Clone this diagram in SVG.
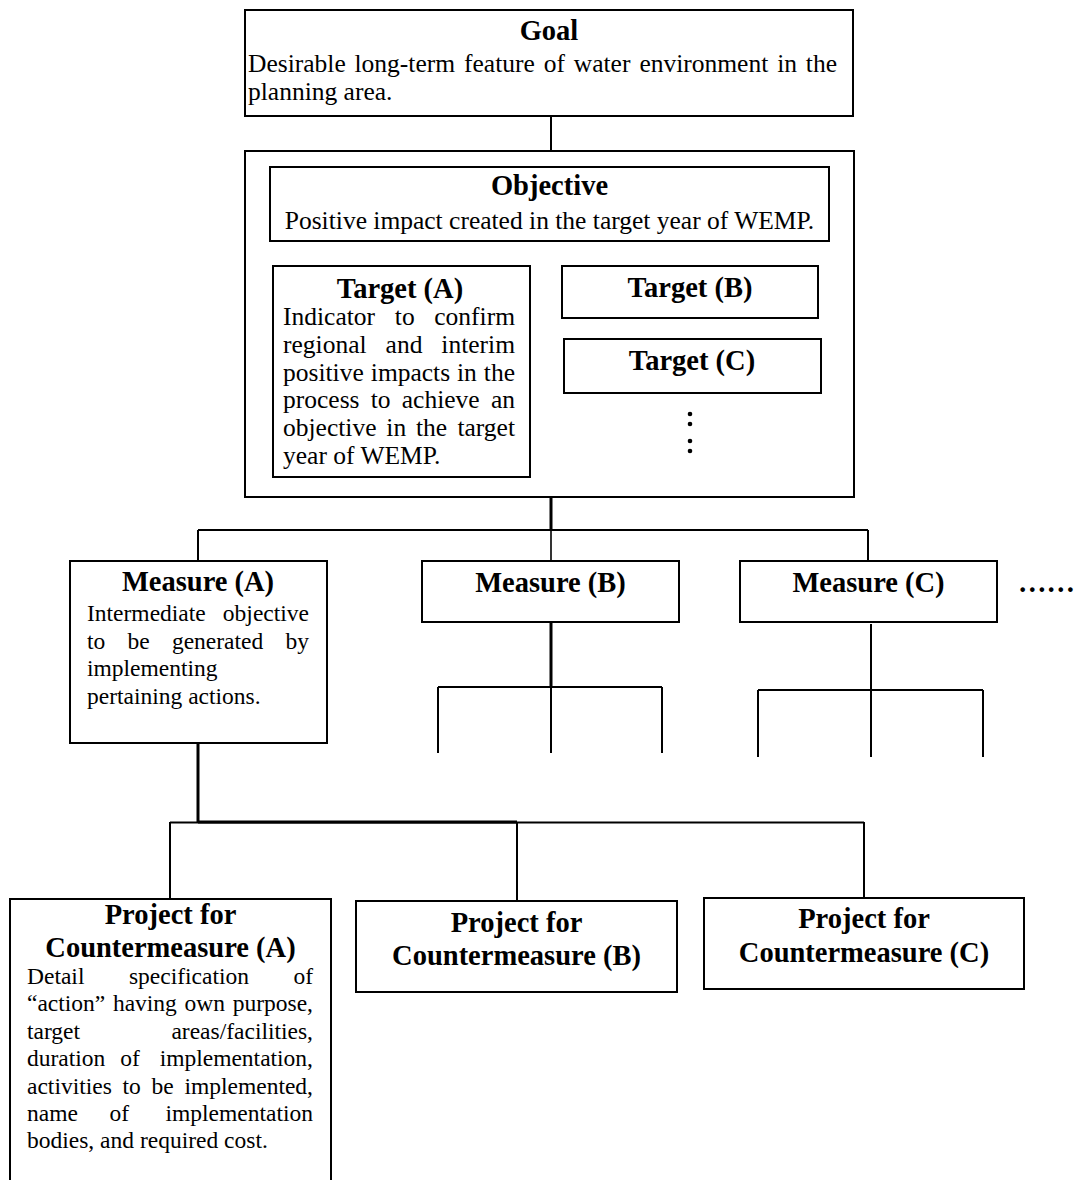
<svg xmlns="http://www.w3.org/2000/svg" width="1077" height="1180" viewBox="0 0 1077 1180">
  <style>
    .box { fill: #fff; stroke: #000; stroke-width: 2; }
    .ln { stroke: #000; stroke-width: 2; fill: none; }
    .thick { stroke-width: 3; }
    .thin { stroke-width: 1.6; }
    text { font-family: "Liberation Serif", "Times New Roman", serif; fill: #000; }
    .t { font-weight: bold; font-size: 28.5px; text-anchor: middle; }
    .b { font-size: 25.5px; }
    .s { font-size: 23.5px; }
    .e { text-anchor: end; }
    .st { text-anchor: start; }
  </style>
  <rect width="1077" height="1180" fill="#fff"/>

  <!-- connectors -->
  <g id="connectors">
    <line class="ln" x1="551" y1="116" x2="551" y2="151"/>
    <line class="ln thick" x1="551" y1="497" x2="551" y2="530"/>
    <line class="ln" x1="198" y1="530" x2="868" y2="530"/>
    <line class="ln" x1="198" y1="530" x2="198" y2="561"/>
    <line class="ln thin" x1="551" y1="530" x2="551" y2="561"/>
    <line class="ln" x1="868" y1="530" x2="868" y2="561"/>

    <!-- branches under Measure (B) -->
    <line class="ln thick" x1="551" y1="622" x2="551" y2="687"/>
    <line class="ln" x1="438" y1="687" x2="662" y2="687"/>
    <line class="ln" x1="438" y1="687" x2="438" y2="753"/>
    <line class="ln" x1="551" y1="687" x2="551" y2="753"/>
    <line class="ln" x1="662" y1="687" x2="662" y2="753"/>

    <!-- branches under Measure (C) -->
    <line class="ln" x1="871" y1="624" x2="871" y2="690"/>
    <line class="ln" x1="758" y1="690" x2="983" y2="690"/>
    <line class="ln" x1="758" y1="690" x2="758" y2="757"/>
    <line class="ln" x1="871" y1="690" x2="871" y2="757"/>
    <line class="ln" x1="983" y1="690" x2="983" y2="757"/>

    <!-- Measure (A) to projects -->
    <line class="ln thick" x1="198" y1="743" x2="198" y2="822"/>
    <line class="ln" x1="170" y1="822.5" x2="864" y2="822.5"/>
    <line class="ln thick" x1="198" y1="822" x2="517" y2="822"/>
    <line class="ln" x1="170" y1="822" x2="170" y2="899"/>
    <line class="ln" x1="517" y1="822" x2="517" y2="901"/>
    <line class="ln" x1="864" y1="822" x2="864" y2="898"/>
  </g>

  <g id="goal">
    <rect class="box" x="245" y="10" width="608" height="106"/>
    <text class="t" x="549" y="40">Goal</text>
    <text class="b" y="72">
      <tspan x="248">Desirable</tspan>
      <tspan x="354.5">long-term</tspan>
      <tspan x="464">feature</tspan>
      <tspan x="543.7">of</tspan>
      <tspan x="573.8">water</tspan>
      <tspan x="639.4">environment</tspan>
      <tspan x="777.2">in</tspan>
    </text>
    <text class="b e" x="837" y="72">the</text>
    <text class="b" x="248" y="100">planning area.</text>
  </g>

  <g id="objective-frame">
    <rect class="box" x="245" y="151" width="609" height="346"/>
  </g>

  <g id="objective">
    <rect class="box" x="270" y="167" width="559" height="74"/>
    <text class="t" x="549.5" y="195">Objective</text>
    <text class="b" x="549.5" y="229" text-anchor="middle">Positive impact created in the target year of WEMP.</text>
  </g>

  <g id="target-a">
    <rect class="box" x="273" y="266" width="257" height="211"/>
    <text class="t" x="400" y="298">Target (A)</text>
    <text class="b" y="325"><tspan x="283">Indicator</tspan><tspan x="394.8">to</tspan></text>
    <text class="b e" x="515" y="325">confirm</text>
    <text class="b" y="352.8"><tspan x="283">regional</tspan><tspan x="385.6">and</tspan></text>
    <text class="b e" x="515" y="352.8">interim</text>
    <text class="b" y="380.6"><tspan x="283">positive</tspan><tspan x="370.8">impacts</tspan><tspan x="457">in</tspan></text>
    <text class="b e" x="515" y="380.6">the</text>
    <text class="b" y="408.4"><tspan x="283">process</tspan><tspan x="370.7">to</tspan><tspan x="401.8">achieve</tspan></text>
    <text class="b e" x="515" y="408.4">an</text>
    <text class="b" y="436.2"><tspan x="283">objective</tspan><tspan x="386.3">in</tspan><tspan x="415.9">the</tspan></text>
    <text class="b e" x="515" y="436.2">target</text>
    <text class="b" x="283" y="464">year of WEMP.</text>
  </g>

  <g id="target-b">
    <rect class="box" x="562" y="266" width="256" height="52"/>
    <text class="t" x="690" y="297">Target (B)</text>
  </g>

  <g id="target-c">
    <rect class="box" x="564" y="339" width="257" height="54"/>
    <text class="t" x="692" y="370">Target (C)</text>
  </g>

  <g id="target-more" fill="#000">
    <circle cx="690" cy="414" r="2.3"/>
    <circle cx="690" cy="424" r="2.3"/>
    <circle cx="690" cy="441" r="2.3"/>
    <circle cx="690" cy="451" r="2.3"/>
  </g>

  <g id="measure-a">
    <rect class="box" x="70" y="561" width="257" height="182"/>
    <text class="t" x="198" y="591">Measure (A)</text>
    <text class="s" x="87" y="621">Intermediate</text>
    <text class="s e" x="309" y="621">objective</text>
    <text class="s" y="648.7"><tspan x="87">to</tspan><tspan x="127.5">be</tspan><tspan x="171.9">generated</tspan></text>
    <text class="s e" x="309" y="648.7">by</text>
    <text class="s" x="87" y="676.4">implementing</text>
    <text class="s" x="87" y="704">pertaining actions.</text>
  </g>

  <g id="measure-b">
    <rect class="box" x="422" y="561" width="257" height="61"/>
    <text class="t" x="550.5" y="592">Measure (B)</text>
  </g>

  <g id="measure-c">
    <rect class="box" x="740" y="561" width="257" height="61"/>
    <text class="t" x="868.5" y="592">Measure (C)</text>
  </g>

  <g id="measure-more">
    <text class="t st" x="1018" y="592">……</text>
  </g>

  <g id="project-a">
    <rect class="box" x="10" y="899" width="321" height="290"/>
    <text class="t" x="170.5" y="924">Project for</text>
    <text class="t" x="170.5" y="956.5">Countermeasure (A)</text>
    <text class="s" y="984"><tspan x="27">Detail</tspan><tspan x="128.9">specification</tspan></text>
    <text class="s e" x="313" y="984">of</text>
    <text class="s" y="1011.4"><tspan x="27">“action”</tspan><tspan x="112.9">having</tspan><tspan x="184.5">own</tspan></text>
    <text class="s e" x="313" y="1011.4">purpose,</text>
    <text class="s" x="27" y="1038.8">target</text>
    <text class="s e" x="313" y="1038.8">areas/facilities,</text>
    <text class="s" y="1066.2"><tspan x="27">duration</tspan><tspan x="120.3">of</tspan></text>
    <text class="s e" x="313" y="1066.2">implementation,</text>
    <text class="s" y="1093.6"><tspan x="27">activities</tspan><tspan x="122.5">to</tspan><tspan x="151.5">be</tspan></text>
    <text class="s e" x="313" y="1093.6">implemented,</text>
    <text class="s" y="1121"><tspan x="27">name</tspan><tspan x="109.6">of</tspan></text>
    <text class="s e" x="313" y="1121">implementation</text>
    <text class="s" x="27" y="1148.4">bodies, and required cost.</text>
  </g>

  <g id="project-b">
    <rect class="box" x="356" y="901" width="321" height="91"/>
    <text class="t" x="516.5" y="932">Project for</text>
    <text class="t" x="516.5" y="965">Countermeasure (B)</text>
  </g>

  <g id="project-c">
    <rect class="box" x="704" y="898" width="320" height="91"/>
    <text class="t" x="864" y="928">Project for</text>
    <text class="t" x="864" y="962">Countermeasure (C)</text>
  </g>
</svg>
